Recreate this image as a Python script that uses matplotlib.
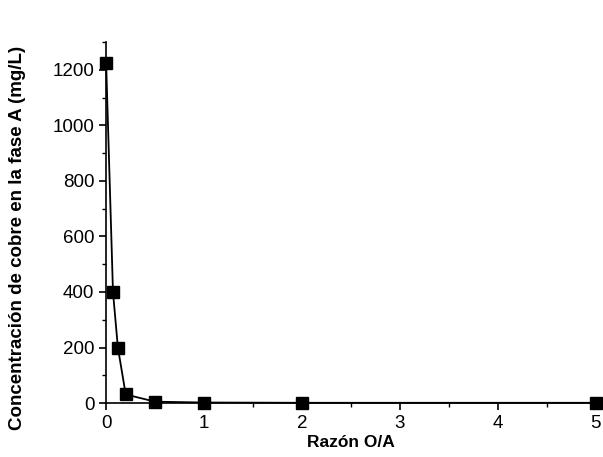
import matplotlib
matplotlib.use("Agg")
import matplotlib.pyplot as plt
from matplotlib.ticker import MultipleLocator

plt.rcParams['font.family'] = ['Liberation Sans', 'DejaVu Sans']

# O/A ratio vs copper concentration in phase A
razon_oa = [0, 0.07, 0.12, 0.2, 0.5, 1, 2, 5]
cobre_mg_l = [1225, 400, 200, 31, 5, 2, 1, 1]

fig = plt.figure(figsize=(6.03, 4.57), dpi=100)
ax = fig.add_axes([0.176, 0.118, 0.812, 0.79])
ax.plot(razon_oa, cobre_mg_l, "-s", color="black", lw=1.3, ms=8, clip_on=False, zorder=3)

ax.set_xlim(0, 5)
ax.set_ylim(0, 1300)
ax.xaxis.set_major_locator(MultipleLocator(1))
ax.xaxis.set_minor_locator(MultipleLocator(0.5))
ax.yaxis.set_major_locator(MultipleLocator(200))
ax.yaxis.set_minor_locator(MultipleLocator(100))
for s in ("top", "right"):
    ax.spines[s].set_visible(False)
ax.spines["left"].set_linewidth(1.2)
ax.spines["bottom"].set_linewidth(1.2)
ax.tick_params(which="major", direction="out", length=5, width=1.2, labelsize=13.5)
ax.tick_params(which="minor", direction="out", length=3, width=1.0)

ax.set_xlabel("Razón O/A", fontsize=12.5, fontweight="bold", labelpad=2)
ax.set_ylabel("Concentración de cobre en la fase A (mg/L)", fontsize=13.5, fontweight="bold")
ax.yaxis.set_label_coords(-0.163, 0.457)

fig.savefig("out.png", dpi=100)
